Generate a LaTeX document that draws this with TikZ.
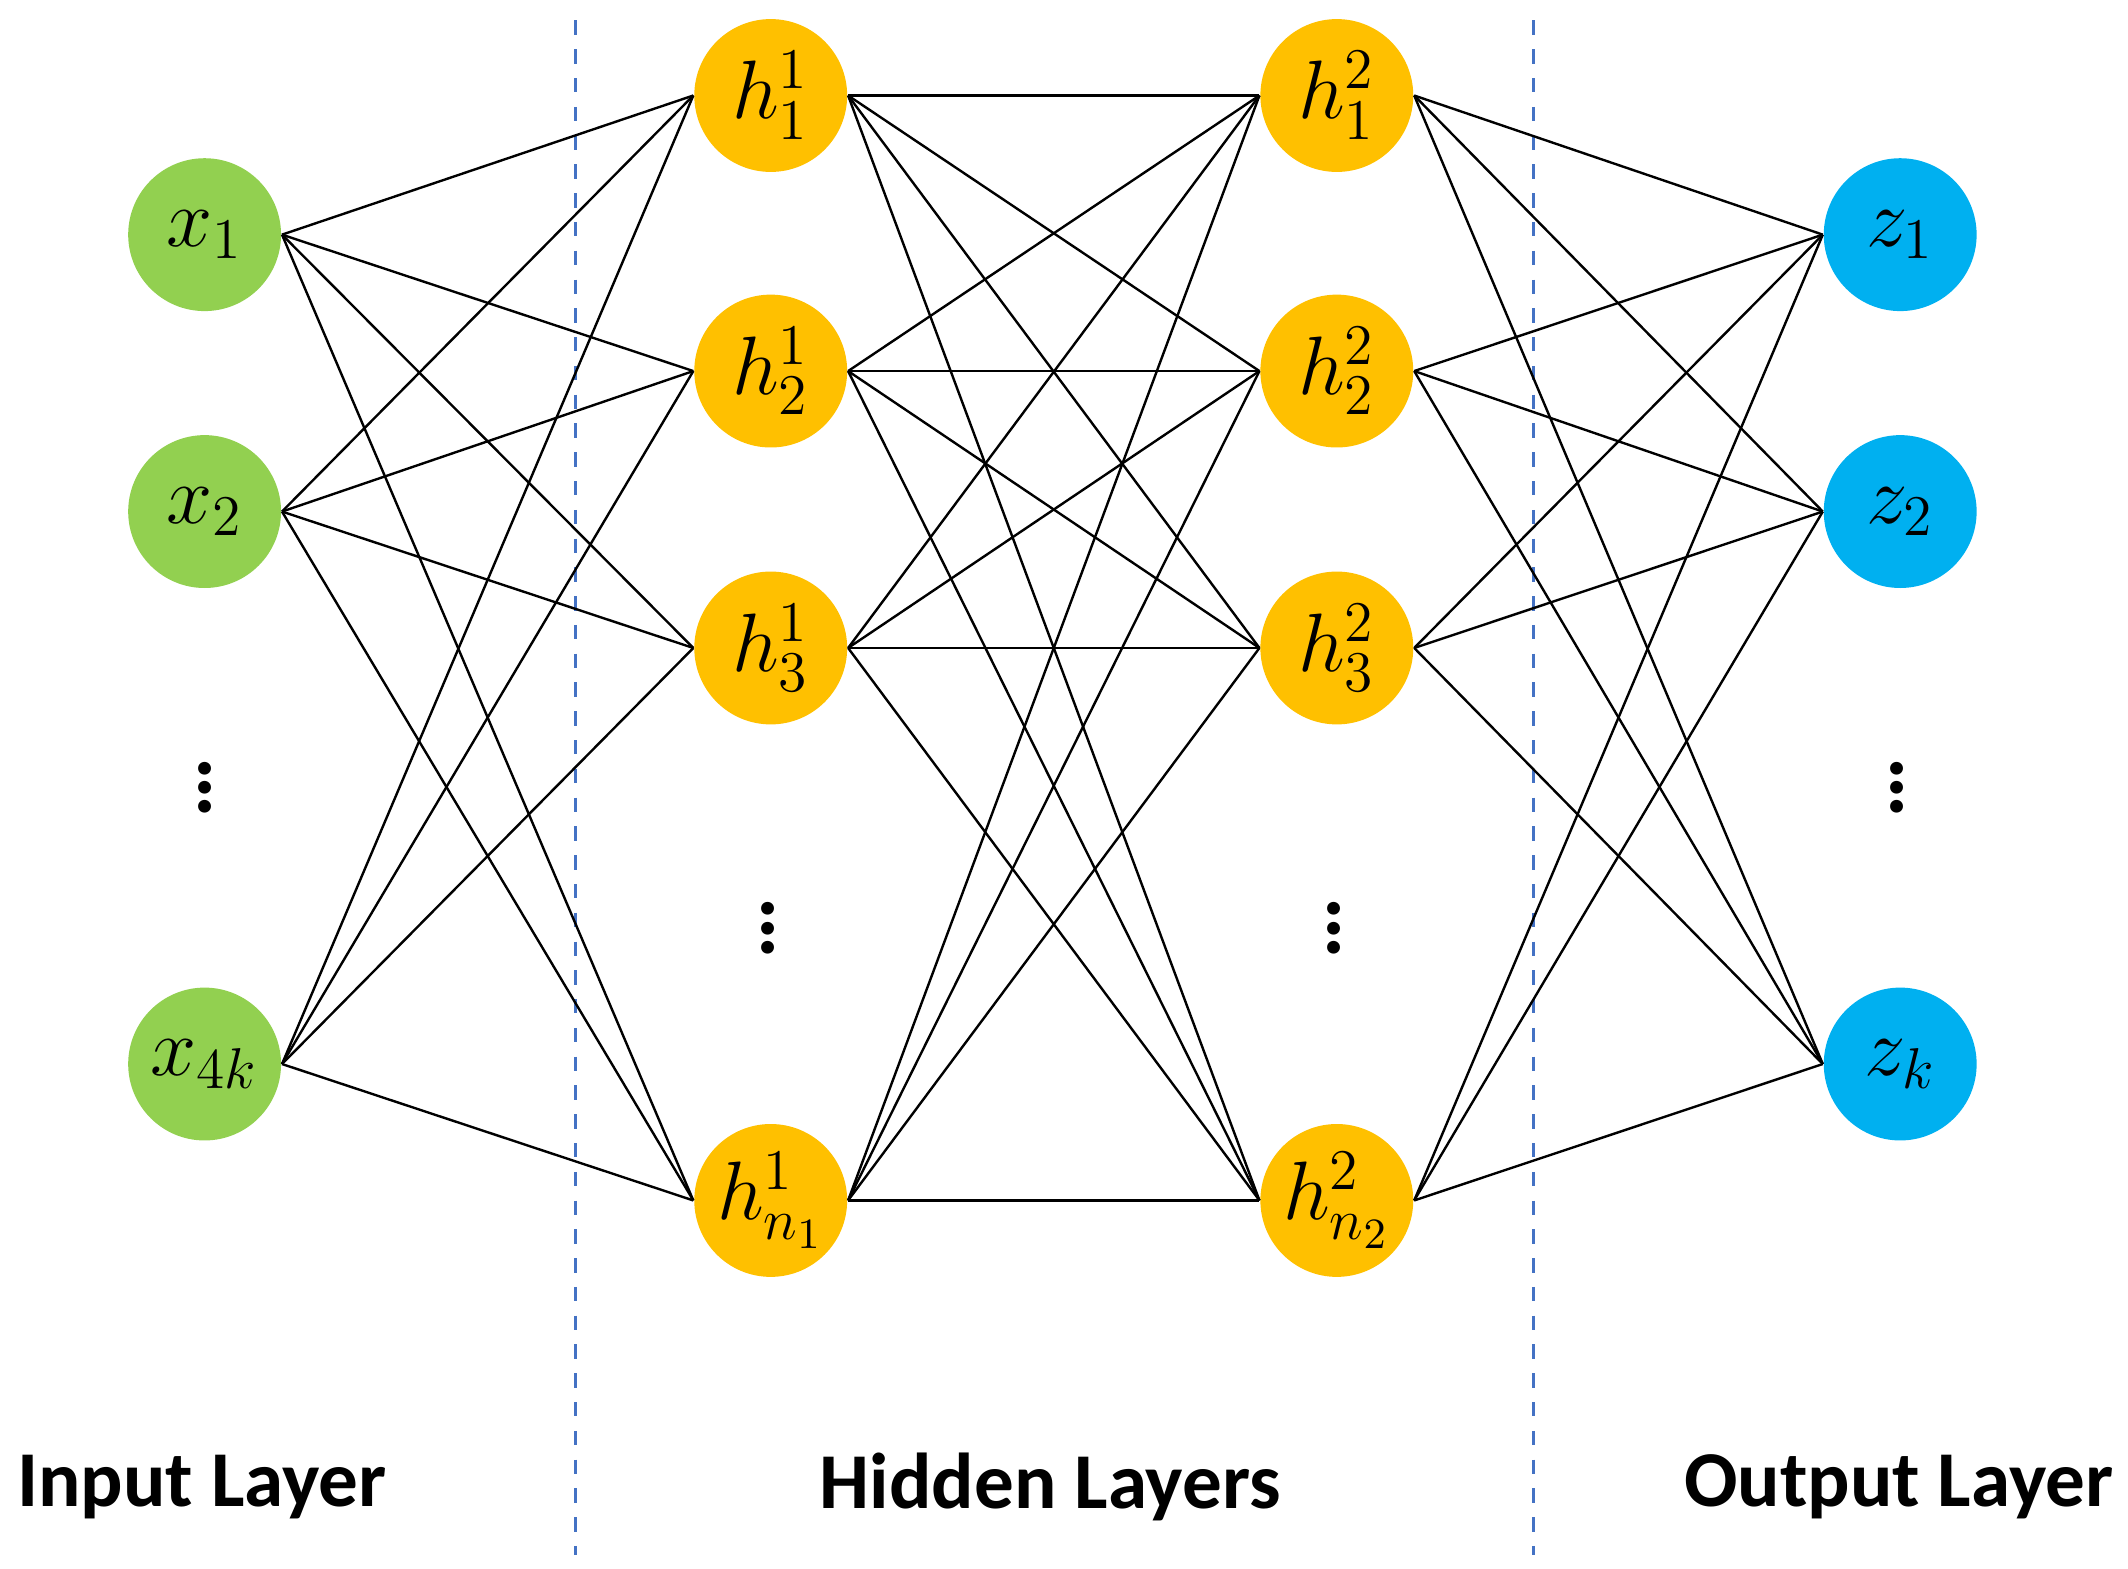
\documentclass[tikz,border=0pt]{standalone}
\usepackage{fontspec}
\setmainfont{Carlito}
\definecolor{ingreen}{HTML}{92D050}
\definecolor{hidorange}{HTML}{FFC000}
\definecolor{outblue}{HTML}{00B0F0}
\definecolor{dashblue}{HTML}{4472C4}
\begin{document}
\begin{tikzpicture}[x=0.01cm,y=-0.01cm,
  neuron/.style={circle,minimum size=1.12cm,inner sep=0pt,font=\fontsize{18}{22}\selectfont},
  inp/.style={neuron,fill=ingreen},
  hid/.style={neuron,fill=hidorange},
  outp/.style={neuron,fill=outblue},
  conn/.style={black,line width=0.5pt},
  sep/.style={dashblue,dashed,line width=0.6pt},
  lab/.style={font=\fontsize{16.5}{20}\selectfont\bfseries},
  dots/.style={font=\fontsize{18}{22}\selectfont\bfseries}]
\useasboundingbox (0,0) rectangle (1560,1150);
\draw[sep] (422,15) -- (422,1140);
\draw[sep] (1124,15) -- (1124,1140);
\node[inp] (x1) at (150,172) {$x_1$};
\node[inp] (x2) at (150,375) {$x_2$};
\node[inp] (x3) at (150,780) {$x_{4k}$};
\node[dots] (xd) at (150,567) {$\vdots$};
\foreach \i/\y/\t in {1/70/1,2/272/2,3/475/3,4/880/{n_1}}{
  \node[hid] (a\i) at (565,\y) {$h^1_{\t}$};}
\foreach \i/\y/\t in {1/70/1,2/272/2,3/475/3,4/880/{n_2}}{
  \node[hid] (b\i) at (980,\y) {$h^2_{\t}$};}
\node[dots] (ad) at (563,670) {$\vdots$};
\node[dots] (bd) at (978,670) {$\vdots$};
\node[outp] (z1) at (1393,172) {$z_1$};
\node[outp] (z2) at (1393,375) {$z_2$};
\node[outp] (z3) at (1393,780) {$z_k$};
\node[dots] (zd) at (1391,567) {$\vdots$};
\foreach \i in {1,2,3}{\foreach \j in {1,...,4}{\draw[conn] (x\i.east) -- (a\j.west);}}
\foreach \i in {1,...,4}{\foreach \j in {1,...,4}{\draw[conn] (a\i.east) -- (b\j.west);}}
\foreach \i in {1,...,4}{\foreach \j in {1,2,3}{\draw[conn] (b\i.east) -- (z\j.west);}}
\node[lab] (l1) at (148,1090) {Input Layer};
\node[lab] (l2) at (770,1090) {Hidden Layers};
\node[lab] (l3) at (1392,1090) {Output Layer};
\end{tikzpicture}
\end{document}
